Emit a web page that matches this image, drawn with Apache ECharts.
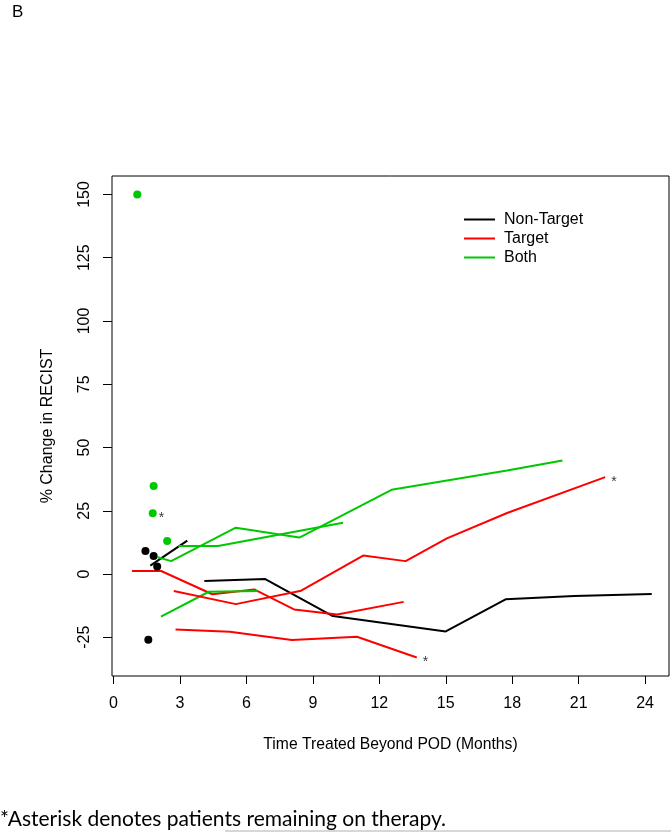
<!DOCTYPE html>
<html><head><meta charset="utf-8">
<script src="https://cdn.jsdelivr.net/npm/echarts@6/dist/echarts.min.js"></script>
<style>html,body{margin:0;padding:0;background:#fff}#c{width:671px;height:832px}</style>
</head><body><div id="c"></div>
<script>
// ---- tick labels ----
const xTicks = [0, 3, 6, 9, 12, 15, 18, 21, 24];
const yTicks = [-25, 0, 25, 50, 75, 100, 125, 150];
const groups = ['Non-Target', 'Target', 'Both'];

// ---- patient trajectories: [months beyond POD, % change in RECIST] ----
// Non-Target (black)
const nonTargetA = [[4.1, -2.8], [6.85, -2.0], [9.9, -16.6], [15.0, -22.7], [17.7, -10.0], [20.8, -8.7], [24.3, -7.9]];
const nonTargetB = [[1.66, 3.3], [3.33, 13.2]];
const nonTargetDots = [[1.44, 9.1], [1.81, 7.1], [1.97, 3.0], [1.57, -26.0]];
// Target (red)
const targetA = [[0.83, 1.2], [2.15, 1.2], [4.46, -8.0], [6.35, -6.1], [8.15, -14.0], [10.1, -16.0], [13.1, -11.0]];
const targetB = [[2.72, -6.7], [5.52, -11.9], [8.47, -6.6], [11.27, 7.3], [13.19, 5.1], [15.05, 14.1], [17.77, 24.1], [22.2, 38.3]];
const targetC = [[2.80, -21.9], [5.25, -22.8], [8.05, -26.1], [10.99, -24.8], [13.69, -33.0]];
// Both (green)
const bothA = [[2.14, -16.8], [4.3, -7.0], [6.5, -6.7]];
const bothB = [[2.0, 6.6], [2.6, 5.1], [5.52, 18.3], [8.39, 14.4], [12.55, 33.3], [17.77, 40.9], [20.27, 44.9]];
const bothC = [[2.92, 11.1], [4.72, 11.1], [10.36, 20.3]];
const bothDots = [[1.07, 150.0], [1.81, 34.8], [1.77, 24.0], [2.42, 13.1]];

// patients remaining on therapy (asterisk): last point of these lines + one dot
const onTherapy = [targetB[targetB.length - 1], targetC[targetC.length - 1], bothDots[2]];

const colors = { 'Non-Target': '#000000', 'Target': '#ff0000', 'Both': '#00c800' };
const FONT = "'Liberation Sans', Arial, sans-serif";

function line(name, data) {
  return { type: 'line', name, data, symbol: 'none', showSymbol: false,
    lineStyle: { color: colors[name], width: 2 }, itemStyle: { color: colors[name] },
    silent: true, z: 3 };
}
function dots(name, data) {
  return { type: 'scatter', name, data, symbol: 'circle', symbolSize: 8,
    itemStyle: { color: colors[name], opacity: 1 }, silent: true, z: 4 };
}

const series = [
  line('Non-Target', nonTargetA), line('Target', targetA), line('Both', bothA),
  line('Non-Target', nonTargetB), line('Target', targetB), line('Target', targetC),
  line('Both', bothB), line('Both', bothC),
  dots('Non-Target', nonTargetDots), dots('Both', bothDots),
  { type: 'scatter', name: 'onTherapy', data: onTherapy, symbol: 'circle', symbolSize: 2,
    itemStyle: { color: 'rgba(0,0,0,0)' }, silent: true, z: 5,
    label: { show: true, formatter: '*', position: 'right', distance: 5, offset: [0, 5],
      color: '#000', fontSize: 14, fontFamily: FONT } }
];

const chart = echarts.init(document.getElementById('c'), null, { renderer: 'canvas' });
chart.setOption({
  animation: false,
  backgroundColor: '#fff',
  grid: { left: 112, top: 176, width: 557, height: 500, show: true,
    borderColor: '#000', borderWidth: 1, backgroundColor: 'transparent', containLabel: false },
  legend: {
    data: groups, orient: 'vertical', left: 459, top: 205, itemGap: 0,
    itemWidth: 31, itemHeight: 2, icon: 'rect', selectedMode: false,
    textStyle: { fontFamily: FONT, fontSize: 16, color: '#000', lineHeight: 19, padding: [0, 0, 0, 4] }
  },
  xAxis: {
    type: 'value', min: -0.07, max: 25.08,
    axisLine: { show: false, onZero: false },
    axisTick: { show: true, length: 8, customValues: xTicks, lineStyle: { color: '#000' } },
    axisLabel: { customValues: xTicks, margin: 20, fontFamily: FONT, fontSize: 16, color: '#000' },
    splitLine: { show: false },
    name: 'Time Treated Beyond POD (Months)', nameLocation: 'middle', nameGap: 61,
    nameTextStyle: { fontFamily: FONT, fontSize: 15.7, color: '#000' }
  },
  yAxis: {
    type: 'value', min: -40.3, max: 157.3,
    axisLine: { show: false, onZero: false },
    axisTick: { show: true, length: 9, customValues: yTicks, lineStyle: { color: '#000' } },
    axisLabel: { customValues: yTicks, rotate: 90, margin: 19, fontFamily: FONT, fontSize: 16, color: '#000' },
    splitLine: { show: false },
    name: '% Change in RECIST', nameLocation: 'middle', nameGap: 56,
    nameTextStyle: { fontFamily: FONT, fontSize: 16, color: '#000' }
  },
  graphic: [
    { type: 'text', left: 12, top: 4, style: { text: 'B', font: '17px ' + FONT, fill: '#000' } },
    { type: 'text', left: 0, top: 809, style: { text: '*Asterisk denotes patients remaining on therapy.', font: '21px Lato, sans-serif', fill: '#000' } },
    { type: 'line', shape: { x1: 225, y1: 831, x2: 671, y2: 831 }, style: { stroke: '#b0b0b0', lineWidth: 1 } }
  ],
  series
});
</script></body></html>
